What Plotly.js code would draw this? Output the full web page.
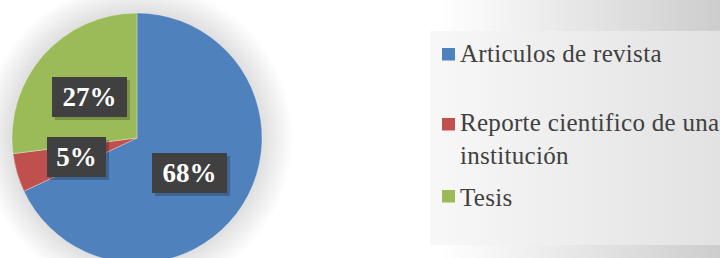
<!DOCTYPE html>
<html>
<head>
<meta charset="utf-8">
<script src="https://cdn.plot.ly/plotly-3.0.1.min.js"></script>
<style>
html, body { margin: 0; padding: 0; width: 720px; height: 258px; overflow: hidden; }
body {
  background:
    radial-gradient(circle at 137px 138px, rgba(222,222,222,1) 124px, rgba(255,255,255,0) 156px),
    linear-gradient(to right, #ffffff 0px, #ffffff 440px, #cdcdcd 720px);
}
#chart { width: 720px; height: 270px; }
</style>
</head>
<body>
<div id="chart"></div>
<script>
// Data
const categories = ["Articulos de revista", "Reporte cientifico de una institución", "Tesis"];
const legendLines = [["Articulos de revista"], ["Reporte cientifico de una", "institución"], ["Tesis"]];
const values = [68, 5, 27];
const colors = ["#4f81bd", "#c0504d", "#9bbb59"];

// Layout helpers (pixel -> paper, plot is 720 x 270, zero margins)
const W = 720, H = 270;
const px = x => x / W;
const py = y => 1 - y / H;

const total = values.reduce((a, b) => a + b, 0);
const pctText = values.map(v => Math.round(v / total * 100) + "%");

const serif = "Liberation Serif, serif";

// data-label box centres (pixels), one per category
const labelPos = [[189.5, 173], [76.5, 156.5], [89.5, 97]];
const labelW = [75, 59, 75];
// legend rows: square top y, text centre y
const legendSq = [48, 118, 190];
const legendTextY = [53, 138.5, 197];

const annotations = [];
const shapes = [];

// legend box
shapes.push({type: "rect", xref: "paper", yref: "paper", layer: "below",
  x0: px(430), x1: px(722), y0: py(245), y1: py(31),
  fillcolor: "rgba(241,241,241,0.58)", line: {width: 0}});

values.forEach((v, i) => {
  const [cx, cy] = labelPos[i];
  // shadow
  annotations.push({xref: "paper", yref: "paper", x: px(cx + 3), y: py(cy + 3),
    xanchor: "center", yanchor: "middle", text: " ", showarrow: false,
    width: labelW[i], height: 40, borderpad: 0, borderwidth: 0,
    bgcolor: "rgba(0,0,0,0.22)"});
  annotations.push({xref: "paper", yref: "paper", x: px(cx), y: py(cy),
    xanchor: "center", yanchor: "middle", text: "<b>" + pctText[i] + "</b>", showarrow: false,
    width: labelW[i], height: 40, borderpad: 0, borderwidth: 0, valign: "middle",
    bgcolor: "#404040",
    font: {family: serif, size: 27, color: "#ffffff"}});
  // legend
  shapes.push({type: "rect", xref: "paper", yref: "paper",
    x0: px(442), x1: px(455), y0: py(legendSq[i] + 12.5), y1: py(legendSq[i]),
    fillcolor: colors[i], line: {width: 0}});
  annotations.push({xref: "paper", yref: "paper", x: px(458), y: py(legendTextY[i]),
    xanchor: "left", yanchor: "middle", align: "left",
    text: legendLines[i].map(s => '<span style="letter-spacing:0.3px">' + s + '</span>').join("<br>"),
    showarrow: false,
    font: {family: serif, size: 25, color: "#404040"}});
});

const trace = {
  type: "pie",
  labels: categories,
  values: values,
  sort: false,
  direction: "clockwise",
  rotation: 0,
  marker: {colors: colors, line: {width: 0.5, color: "rgba(255,255,255,0.6)"}},
  textinfo: "none",
  hoverinfo: "none",
  showlegend: false,
  domain: {x: [px(12), px(262)], y: [7 / H, 257 / H]}
};

const layout = {
  width: W, height: H,
  margin: {l: 0, r: 0, t: 0, b: 0},
  paper_bgcolor: "rgba(0,0,0,0)",
  plot_bgcolor: "rgba(0,0,0,0)",
  showlegend: false,
  shapes: shapes,
  annotations: annotations
};

Plotly.newPlot("chart", [trace], layout, {displayModeBar: false, staticPlot: true});
</script>
</body>
</html>
